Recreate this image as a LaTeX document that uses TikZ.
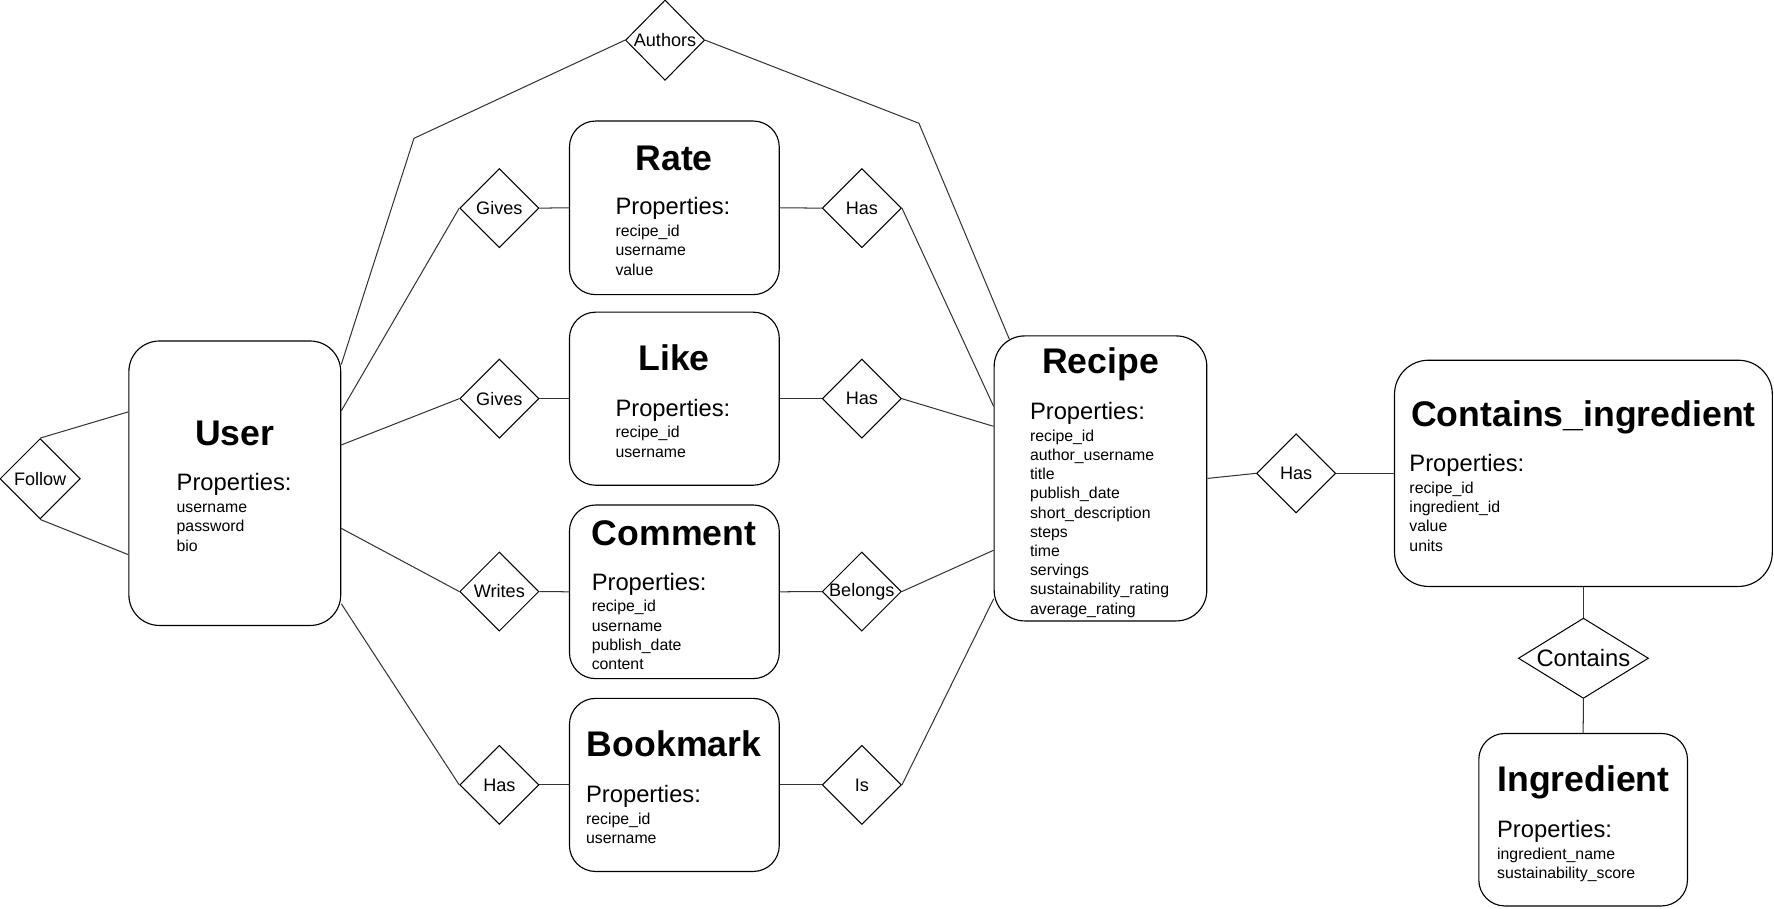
\documentclass[tikz,border=0pt]{standalone}
\usepackage{fontspec}
\setmainfont{Liberation Sans}
\usetikzlibrary{shapes.geometric,calc}

\newcommand\erTitle{\fontsize{31.5}{36}\selectfont\bfseries}
\newcommand\erProp{\fontsize{21}{25}\selectfont}
\newcommand\erAttr{\fontsize{14}{17}\selectfont}
\newcommand\erRel{\fontsize{16}{19}\selectfont}

\begin{document}
\begin{tikzpicture}[x=1pt,y=-1pt,
	entity/.style={draw, rounded corners=23pt, inner sep=0pt, line width=1pt},
	rel/.style={draw, diamond, aspect=1, inner xsep=-6pt, inner ysep=0pt, minimum width=70pt, minimum height=70pt, font=\erRel, line width=0.9pt},
	title/.style={font=\erTitle, inner sep=0pt, anchor=base},
	prop/.style={font=\erProp, inner sep=0pt, anchor=base west},
	attr/.style={font=\erAttr, inner sep=0pt, anchor=north west, align=left},
	link/.style={draw=black!80, line width=0.9pt}]
	\useasboundingbox (0,0) rectangle (1568.5,803);

	% entities
	\node[entity, minimum width=187.3pt, minimum height=251.5pt, rounded corners=27pt] (user) at (207.6,427.25) {};
	\node[title] (user-title) at (207.6,393.5) {User};
	\node[prop] (user-prop) at (156,434) {Properties:};
	\node[attr] (user-attr) at ([yshift=-7.1pt]user-prop.base west) {\strut username\\password\\bio};

	\node[entity, minimum width=185.5pt, minimum height=153.5pt] (rate) at (596.25,183.75) {};
	\node[title] (rate-title) at (596,151) {Rate};
	\node[prop] (rate-prop) at (544,190) {Properties:};
	\node[attr] (rate-attr) at ([yshift=-7.1pt]rate-prop.base west) {\strut recipe\_id\\username\\value};

	\node[entity, minimum width=185.5pt, minimum height=153pt] (like) at (596.25,352.5) {};
	\node[title] (like-title) at (596,328) {Like};
	\node[prop] (like-prop) at (544,368) {Properties:};
	\node[attr] (like-attr) at ([yshift=-7.1pt]like-prop.base west) {\strut recipe\_id\\username};

	\node[entity, minimum width=185.5pt, minimum height=153.5pt] (comment) at (596.25,523.25) {};
	\node[title] (comment-title) at (596,482) {Comment};
	\node[prop] (comment-prop) at (523,521.7) {Properties:};
	\node[attr] (comment-attr) at ([yshift=-7.1pt]comment-prop.base west) {\strut recipe\_id\\username\\publish\_date\\content};

	\node[entity, minimum width=185.5pt, minimum height=153pt] (bookmark) at (596.25,694) {};
	\node[title] (bookmark-title) at (596,669) {Bookmark};
	\node[prop] (bookmark-prop) at (518,709.4) {Properties:};
	\node[attr] (bookmark-attr) at ([yshift=-7.1pt]bookmark-prop.base west) {\strut recipe\_id\\username};

	\node[entity, minimum width=188pt, minimum height=252pt, rounded corners=27pt] (recipe) at (973,423) {};
	\node[title] (recipe-title) at (973,330) {Recipe};
	\node[prop] (recipe-prop) at (910.5,370.8) {Properties:};
	\node[attr] (recipe-attr) at ([yshift=-7.1pt]recipe-prop.base west) {\strut recipe\_id\\author\_username\\title\\publish\_date\\short\_description\\steps\\time\\servings\\sustainability\_rating\\average\_rating};

	\node[entity, minimum width=334pt, minimum height=200pt, rounded corners=30pt] (cing) at (1400,418.5) {};
	\node[title] (cing-title) at (1400,377) {Contains\_ingredient};
	\node[prop] (cing-prop) at (1246,417) {Properties:};
	\node[attr] (cing-attr) at ([yshift=-7.1pt]cing-prop.base west) {\strut recipe\_id\\ingredient\_id\\value\\units};

	\node[entity, minimum width=184.5pt, minimum height=152.5pt] (ingredient) at (1399.75,724.75) {};
	\node[title] (ingredient-title) at (1400,700) {Ingredient};
	\node[prop] (ingredient-prop) at (1323.5,740.3) {Properties:};
	\node[attr] (ingredient-attr) at ([yshift=-7.1pt]ingredient-prop.base west) {\strut ingredient\_name\\sustainability\_score};

	% relations
	\node[rel, minimum width=71pt, minimum height=71pt] (follow) at (35.5,423.3) {Follow};
	\node[rel, minimum height=71pt] (authors) at (588,35.5) {Authors};
	\node[rel] (gives1) at (441.5,184) {Gives};
	\node[rel] (gives2) at (441.5,352.5) {Gives};
	\node[rel] (writes) at (441.5,523) {Writes};
	\node[rel] (hasb) at (441.5,694) {Has};
	\node[rel] (has1) at (762,184) {Has};
	\node[rel] (has2) at (762,352.5) {Has};
	\node[rel] (belongs) at (762,523) {Belongs};
	\node[rel] (is) at (762,694) {Is};
	\node[rel] (hasr) at (1146,418.5) {Has};
	\node[rel, aspect=1.62, minimum width=115pt, minimum height=71pt, font=\fontsize{21}{25}\selectfont] (contains) at (1400,582) {Contains};

	\coordinate (aleft) at (366,122.3);
	\coordinate (aright) at (812.5,109);

	% links
	\draw[link] (follow.north) -- ($(user.north west)!0.25!(user.south west)$);
	\draw[link] (follow.south) -- ($(user.north west)!0.75!(user.south west)$);

	\draw[link] (authors.west) -- (aleft) -- ($(user.north east)!0.084!(user.south east)$);
	\draw[link] (authors.east) -- (aright) -- ([xshift=14pt,yshift=-3.6pt]recipe.north west);

	\draw[link] ($(user.north east)!0.2465!(user.south east)$) -- (gives1.west);
	\draw[link] (gives1.east) -- (rate.west);
	\draw[link] (rate.east) -- (has1.west);
	\draw[link] (has1.east) -- ($(recipe.north west)!0.248!(recipe.south west)$);

	\draw[link] ($(user.north east)!0.366!(user.south east)$) -- (gives2.west);
	\draw[link] (gives2.east) -- (like.west);
	\draw[link] (like.east) -- (has2.west);
	\draw[link] (has2.east) -- ($(recipe.north west)!0.318!(recipe.south west)$);

	\draw[link] ($(user.north east)!0.658!(user.south east)$) -- (writes.west);
	\draw[link] (writes.east) -- (comment.west);
	\draw[link] (comment.east) -- (belongs.west);
	\draw[link] (belongs.east) -- ($(recipe.north west)!0.751!(recipe.south west)$);

	\draw[link] ($(user.north east)!0.922!(user.south east)$) -- (hasb.west);
	\draw[link] (hasb.east) -- (bookmark.west);
	\draw[link] (bookmark.east) -- (is.west);
	\draw[link] (is.east) -- ($(recipe.north west)!0.921!(recipe.south west)$);

	\draw[link] (recipe.east) -- (hasr.west);
	\draw[link] (hasr.east) -- (cing.west);
	\draw[link] (cing.south) -- (contains.north);
	\draw[link] (contains.south) -- (ingredient.north);
\end{tikzpicture}
\end{document}
